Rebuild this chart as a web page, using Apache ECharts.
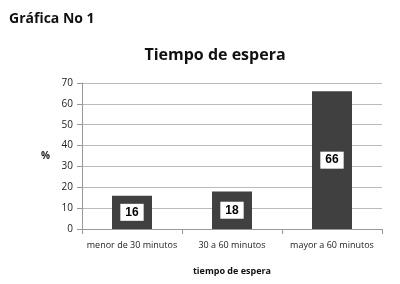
<!DOCTYPE html>
<html>
<head>
<meta charset="utf-8">
<script src="https://cdn.jsdelivr.net/npm/echarts@6/dist/echarts.min.js"></script>
<style>
  html, body { margin: 0; padding: 0; background: #fff; }
  #chart { width: 400px; height: 284px; }
</style>
</head>
<body>
<div id="chart"></div>
<script>
// datos de la grafica
const categorias = ['menor de 30 minutos', '30 a 60 minutos', 'mayor a 60 minutos'];
const valores = [16, 18, 66];
const ticksY = [0, 10, 20, 30, 40, 50, 60, 70];

let chart = echarts.init(document.getElementById('chart'));
let option = {
  animation: false,
  textStyle: { fontFamily: 'Open Sans' },
  title: [
    {
      text: 'Gráfica No 1',
      left: 4, top: 7,
      textStyle: { fontSize: 14, fontWeight: 'bold', color: '#111' }
    },
    {
      text: 'Tiempo de espera',
      left: 210, top: 42, textAlign: 'center',
      textStyle: { fontSize: 16, fontWeight: 'bold', color: '#111' }
    }
  ],
  grid: { left: 82, right: 18, top: 83, bottom: 55 },
  xAxis: {
    type: 'category',
    data: categorias,
    name: 'tiempo de espera',
    nameLocation: 'middle',
    nameGap: 38,
    nameTextStyle: { fontSize: 9, fontWeight: 'bold', color: '#111' },
    axisLine: { lineStyle: { color: '#999' } },
    axisTick: { show: true, length: 5, lineStyle: { color: '#999' } },
    axisLabel: { fontSize: 9, color: '#222', margin: 12, interval: 0 }
  },
  yAxis: {
    type: 'value',
    min: ticksY[0], max: ticksY[ticksY.length - 1], interval: 10,
    name: '%',
    nameLocation: 'middle',
    nameRotate: 0,
    nameGap: 32,
    nameTextStyle: { fontSize: 10, fontWeight: 'bold', color: '#222' },
    axisLine: { show: true, lineStyle: { color: '#999' } },
    axisTick: { show: true, length: 5, inside: false, lineStyle: { color: '#999' } },
    axisLabel: { fontSize: 10, color: '#222', margin: 9 },
    splitLine: { lineStyle: { color: '#bbb' } }
  },
  series: [
    {
      type: 'bar',
      data: valores,
      barWidth: '40%',
      itemStyle: { color: '#404040' },
      label: {
        show: true,
        position: 'inside',
        backgroundColor: '#fff',
        color: '#000',
        fontWeight: 'bold',
        fontSize: 12,
        fontFamily: 'Liberation Sans',
        padding: [3, 5, 2, 5]
      }
    }
  ]
};
chart.setOption(option);
</script>
</body>
</html>
